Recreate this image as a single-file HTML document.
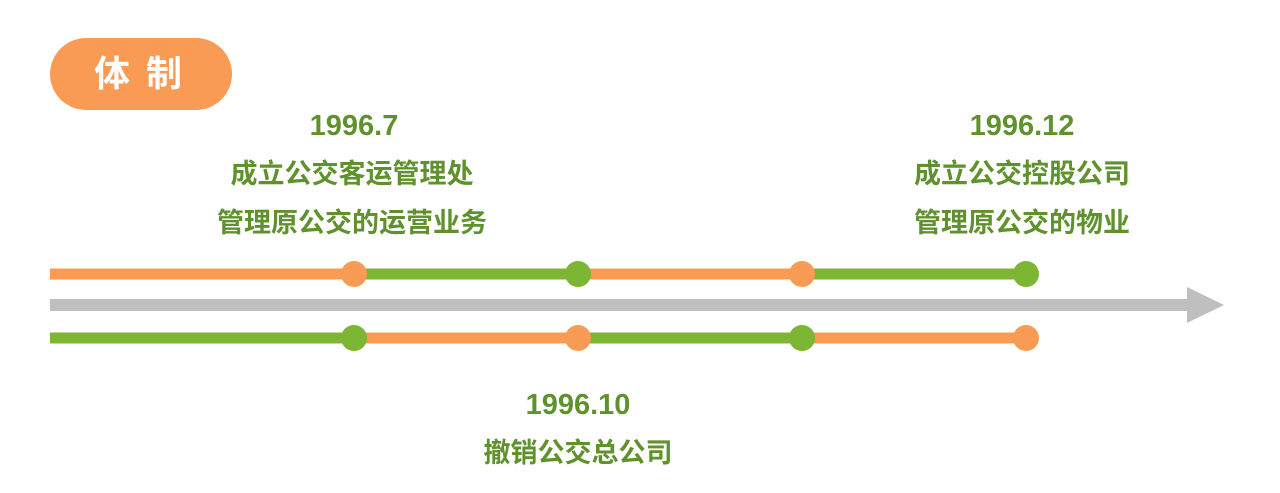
<!DOCTYPE html><html><head><meta charset="utf-8"><style>
body{margin:0;width:1280px;height:493px;background:#fff;position:relative;overflow:hidden;font-family:"Liberation Sans","Noto Sans CJK SC",sans-serif}
.t{position:absolute;color:#5f922c;font-weight:bold;font-size:27px;text-align:center;width:400px;line-height:30px}
.d{font-size:29px}
</style></head><body>
<div style="position:absolute;left:50px;top:38px;width:182px;height:72px;border-radius:36px;background:#f99b55;color:#fff;font-size:36px;font-weight:bold;line-height:72px;text-align:center;letter-spacing:16px;text-indent:10px">体制</div>
<div class="t d" style="left:154px;top:111px">1996.7</div>
<div class="t" style="left:152px;top:159px">成立公交客运管理处</div>
<div class="t" style="left:152px;top:208px">管理原公交的运营业务</div>
<div class="t d" style="left:822px;top:111px">1996.12</div>
<div class="t" style="left:822px;top:159px">成立公交控股公司</div>
<div class="t" style="left:822px;top:208px">管理原公交的物业</div>
<div class="t d" style="left:378px;top:390px">1996.10</div>
<div class="t" style="left:378px;top:438px">撤销公交总公司</div>
<svg width="1280" height="493" style="position:absolute;left:0;top:0">
<rect x="50" y="299" width="1140" height="12" fill="#bfbfbf"/>
<polygon points="1187,287 1224,305 1187,323" fill="#bfbfbf"/>
<g stroke-width="11">
<line x1="50" y1="274" x2="354" y2="274" stroke="#f99b55"/>
<line x1="354" y1="274" x2="578" y2="274" stroke="#7db534"/>
<line x1="578" y1="274" x2="802" y2="274" stroke="#f99b55"/>
<line x1="802" y1="274" x2="1026" y2="274" stroke="#7db534"/>
<line x1="50" y1="338" x2="354" y2="338" stroke="#7db534"/>
<line x1="354" y1="338" x2="578" y2="338" stroke="#f99b55"/>
<line x1="578" y1="338" x2="802" y2="338" stroke="#7db534"/>
<line x1="802" y1="338" x2="1026" y2="338" stroke="#f99b55"/>
</g>
<circle cx="354" cy="274" r="13" fill="#f99b55"/><circle cx="578" cy="274" r="13" fill="#7db534"/>
<circle cx="802" cy="274" r="13" fill="#f99b55"/><circle cx="1026" cy="274" r="13" fill="#7db534"/>
<circle cx="354" cy="338" r="13" fill="#7db534"/><circle cx="578" cy="338" r="13" fill="#f99b55"/>
<circle cx="802" cy="338" r="13" fill="#7db534"/><circle cx="1026" cy="338" r="13" fill="#f99b55"/>
</svg>
</body></html>
